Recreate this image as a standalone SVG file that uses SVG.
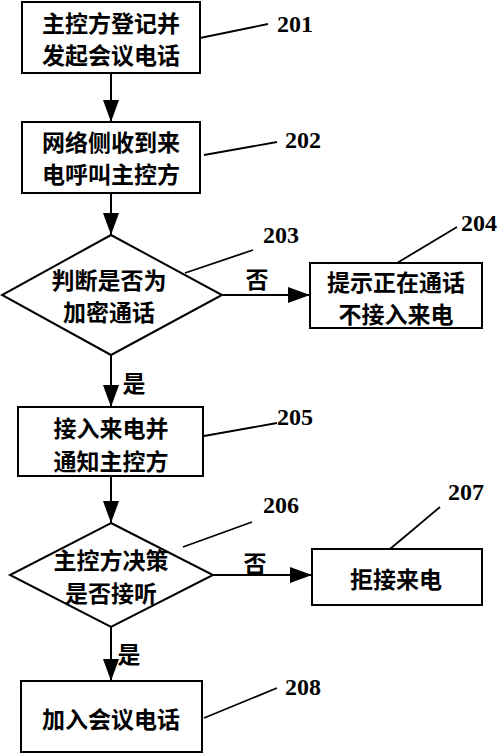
<svg xmlns="http://www.w3.org/2000/svg" width="500" height="754" viewBox="0 0 500 754">
<style>
.box{fill:#fff;stroke:#000;stroke-width:2}
.t{font-family:"Noto Sans CJK SC","Liberation Sans",sans-serif;font-weight:bold;font-size:23px;fill:#000;text-anchor:middle;dominant-baseline:central}
.n{font-family:"Liberation Serif",serif;font-weight:bold;font-size:24px;fill:#000}
.ln{stroke:#000;stroke-width:2;fill:none}
.ld{stroke:#000;stroke-width:1.8;fill:none}
</style>
<defs>
<marker id="ah" markerUnits="userSpaceOnUse" markerWidth="22" markerHeight="16" refX="22" refY="8" viewBox="0 0 22 16" orient="auto">
<path d="M0,0 L22,8 L0,16 Z" fill="#000"/>
</marker>
</defs>
<rect width="500" height="754" fill="#fff"/>
<g id="connectors">
<line class="ln" x1="111" y1="73" x2="111" y2="122" marker-end="url(#ah)"/>
<line class="ln" x1="111" y1="193" x2="111" y2="235" marker-end="url(#ah)"/>
<line class="ln" x1="222" y1="295" x2="310" y2="295" marker-end="url(#ah)"/>
<line class="ln" x1="111" y1="355" x2="111" y2="407" marker-end="url(#ah)"/>
<line class="ln" x1="111" y1="476" x2="111" y2="523" marker-end="url(#ah)"/>
<line class="ln" x1="213" y1="575" x2="312" y2="575" marker-end="url(#ah)"/>
<line class="ln" x1="111" y1="627" x2="111" y2="681" marker-end="url(#ah)"/>
<text class="t" x="257" y="278">否</text>
<text class="t" x="134" y="382">是</text>
<text class="t" x="255" y="562">否</text>
<text class="t" x="129" y="653">是</text>
</g>
<g id="n201">
<rect class="box" x="22" y="2" width="178" height="71"/>
<text class="t" x="111" y="22">主控方登记并</text>
<text class="t" x="111" y="54">发起会议电话</text>
<line class="ld" x1="200" y1="38" x2="268" y2="24"/>
<text class="n" x="277" y="32">201</text>
</g>
<g id="n202">
<rect class="box" x="22" y="122" width="178" height="71"/>
<text class="t" x="111" y="141">网络侧收到来</text>
<text class="t" x="111" y="173">电呼叫主控方</text>
<line class="ld" x1="204" y1="155" x2="277" y2="142"/>
<text class="n" x="285" y="148">202</text>
</g>
<g id="n203">
<polygon class="box" points="111,235 222,295 111,355 2,295"/>
<text class="t" x="109" y="279">判断是否为</text>
<text class="t" x="109" y="311">加密通话</text>
<line class="ld" x1="185" y1="273" x2="253" y2="250"/>
<text class="n" x="263" y="243">203</text>
</g>
<g id="n204">
<rect class="box" x="310" y="263" width="172" height="65"/>
<text class="t" x="396" y="281">提示正在通话</text>
<text class="t" x="396" y="313">不接入来电</text>
<line class="ld" x1="397" y1="263" x2="457" y2="227"/>
<text class="n" x="461" y="231">204</text>
</g>
<g id="n205">
<rect class="box" x="18" y="407" width="185" height="69"/>
<text class="t" x="111" y="427">接入来电并</text>
<text class="t" x="111" y="460">通知主控方</text>
<line class="ld" x1="204" y1="436" x2="277" y2="423"/>
<text class="n" x="277" y="425">205</text>
</g>
<g id="n206">
<polygon class="box" points="111,523 213,575 111,627 10,575"/>
<text class="t" x="111" y="559">主控方决策</text>
<text class="t" x="111" y="592">是否接听</text>
<line class="ld" x1="183" y1="547" x2="252" y2="522"/>
<text class="n" x="263" y="513">206</text>
</g>
<g id="n207">
<rect class="box" x="312" y="549" width="170" height="56"/>
<text class="t" x="396" y="578">拒接来电</text>
<line class="ld" x1="390" y1="549" x2="440" y2="507"/>
<text class="n" x="448" y="500">207</text>
</g>
<g id="n208">
<rect class="box" x="21" y="681" width="181" height="71"/>
<text class="t" x="111" y="718">加入会议电话</text>
<line class="ld" x1="204" y1="718" x2="277" y2="688"/>
<text class="n" x="285" y="695">208</text>
</g>
</svg>
